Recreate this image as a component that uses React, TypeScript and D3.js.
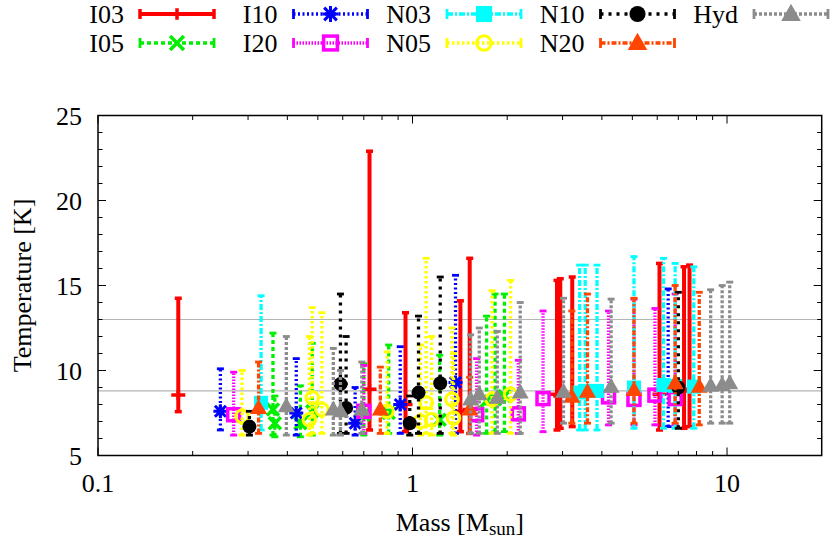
import * as d3 from 'd3';

// [mass, median T, min T, max T]
type Pt = [number, number, number, number];

const I03: Pt[] = [
  [0.18, 8.56, 7.58, 14.25],
  [0.73, 8.9, 6.5, 22.9],
  [0.95, 8.0, 6.4, 13.4],
  [1.42, 7.6, 6.4, 14.1],
  [1.52, 7.7, 6.3, 16.6],
  [2.88, 8.6, 6.5, 15.3],
  [2.95, 8.5, 6.6, 15.4],
  [3.22, 8.5, 6.7, 15.5],
  [6.1, 8.6, 6.5, 16.3],
  [7.3, 8.8, 6.6, 16.1],
  [7.6, 8.9, 6.7, 16.2],
];

const I05: Pt[] = [
  [0.36, 7.7, 6.2, 12.2],
  [0.365, 6.9, 6.1, 8.5],
  [0.44, 6.9, 6.1, 9.1],
  [0.48, 7.6, 6.2, 11.6],
  [0.7, 7.4, 6.2, 10.4],
  [0.84, 7.5, 6.3, 11.5],
  [1.22, 7.1, 6.2, 10.9],
  [1.72, 8.2, 6.3, 13.2],
  [1.83, 8.3, 6.4, 14.5],
  [1.96, 8.5, 6.4, 14.5],
];

const I10: Pt[] = [
  [0.245, 7.6, 6.5, 10.1],
  [0.427, 7.5, 6.2, 10.7],
  [0.657, 6.9, 6.2, 9.0],
  [0.914, 8.0, 6.3, 11.4],
  [1.37, 9.3, 6.3, 15.6],
  [6.5, 9.1, 6.7, 14.8],
];

const I20: Pt[] = [
  [0.27, 7.4, 6.2, 9.9],
  [0.7, 7.6, 6.3, 10.3],
  [1.6, 7.4, 6.2, 10.7],
  [2.17, 7.45, 6.3, 10.6],
  [2.6, 8.35, 6.4, 13.5],
  [4.2, 8.45, 6.8, 13.5],
  [5.06, 8.3, 6.8, 14.2],
  [5.9, 8.55, 6.8, 13.65],
  [6.84, 8.35, 6.8, 14.5],
];

const N03: Pt[] = [
  [0.33, 8.1, 6.5, 14.4],
  [3.4, 8.7, 6.5, 16.2],
  [3.54, 8.8, 6.5, 16.2],
  [3.86, 8.8, 6.5, 16.2],
  [5.06, 9.0, 6.6, 16.7],
  [6.28, 9.15, 6.6, 16.6],
  [6.84, 9.1, 6.6, 16.3],
  [7.84, 9.05, 6.6, 16.1],
];

const N05: Pt[] = [
  [0.287, 7.3, 6.2, 10.0],
  [0.47, 7.1, 6.2, 12.0],
  [0.48, 8.4, 6.3, 13.7],
  [0.515, 7.7, 6.3, 13.4],
  [0.83, 7.6, 6.3, 11.1],
  [1.06, 7.0, 6.2, 11.5],
  [1.105, 8.1, 6.3, 16.6],
  [1.15, 7.1, 6.2, 12.0],
  [1.335, 8.3, 6.3, 12.5],
  [1.35, 7.2, 6.2, 11.0],
  [1.79, 8.3, 6.3, 14.7],
  [2.05, 8.6, 6.3, 15.3],
];

const N10: Pt[] = [
  [0.303, 6.7, 6.2, 7.6],
  [0.59, 9.2, 6.3, 14.5],
  [0.615, 7.8, 6.3, 12.0],
  [0.98, 6.9, 6.2, 8.5],
  [1.045, 8.7, 6.3, 13.2],
  [1.225, 9.25, 6.3, 15.5],
  [7.0, 9.0, 6.6, 14.6],
];

const N20: Pt[] = [
  [0.324, 7.8, 6.3, 10.5],
  [0.79, 7.7, 6.3, 10.2],
  [1.52, 7.7, 6.3, 9.6],
  [3.21, 8.45, 6.9, 13.5],
  [3.6, 8.75, 6.9, 14.5],
  [5.06, 8.85, 6.9, 14.25],
  [6.84, 9.25, 6.9, 15.0],
  [8.16, 9.05, 6.8, 14.6],
];

const Hyd: Pt[] = [
  [0.397, 7.9, 6.2, 12.0],
  [0.56, 7.7, 6.2, 11.3],
  [0.59, 7.6, 6.2, 10.0],
  [0.69, 7.7, 6.3, 10.5],
  [1.53, 8.3, 6.3, 12.1],
  [1.63, 8.6, 6.3, 12.5],
  [1.86, 8.4, 6.3, 12.3],
  [2.2, 8.7, 6.3, 14.0],
  [3.02, 8.75, 6.9, 14.25],
  [4.28, 9.05, 6.9, 14.2],
  [8.87, 9.1, 6.9, 14.75],
  [9.65, 9.15, 6.9, 15.0],
  [10.2, 9.25, 6.9, 15.2],
];

const refLines = [13, 8.8];
const xMajorTicks = [0.1, 1, 10];
const yMajorTicks = [5, 10, 15, 20, 25];

type Marker = 'plus' | 'cross' | 'star' | 'osquare' | 'fsquare' | 'ocircle' | 'fcircle' | 'ftri';

interface Series {
  name: string;
  data: Pt[];
  color: string;
  dash?: string;
  width: number;
  marker: Marker;
}

// plot order = gnuplot order
const series: Series[] = [
  { name: 'I03', data: I03, color: '#ff0000', width: 4, marker: 'plus' },
  { name: 'I05', data: I05, color: '#00ee00', dash: '4,3', width: 3.3, marker: 'cross' },
  { name: 'I10', data: I10, color: '#0000ff', dash: '2,2.5', width: 3.3, marker: 'star' },
  { name: 'I20', data: I20, color: '#ff00ff', dash: '1.5,1.5', width: 3.3, marker: 'osquare' },
  { name: 'N03', data: N03, color: '#00ffff', dash: '6,2,2,2', width: 3.3, marker: 'fsquare' },
  { name: 'N05', data: N05, color: '#ffff00', dash: '2.5,2.5', width: 3.3, marker: 'ocircle' },
  { name: 'N10', data: N10, color: '#000000', dash: '3,5', width: 3.3, marker: 'fcircle' },
  { name: 'N20', data: N20, color: '#ff4500', dash: '5,2,2,2', width: 3.3, marker: 'ftri' },
  { name: 'Hyd', data: Hyd, color: '#8c8c8c', dash: '3,2', width: 3.3, marker: 'ftri' },
];

// legend columns (2 rows each)
const legendColumns = [['I03', 'I05'], ['I10', 'I20'], ['N03', 'N05'], ['N10', 'N20'], ['Hyd']];

const W = 830;
const H = 540;
const font = '"Liberation Serif", "Times New Roman", serif';

function MarkerShape({ type, x, y, color, k = 1 }: { type: Marker; x: number; y: number; color: string; k?: number }) {
  switch (type) {
    case 'plus':
      return <path d={`M${x - 7 * k},${y}H${x + 7 * k}M${x},${y - 5 * k}V${y + 5 * k}`} stroke={color} strokeWidth={3.5} fill="none" />;
    case 'cross':
      return (
        <path
          d={`M${x - 6 * k},${y - 6 * k}L${x + 6 * k},${y + 6 * k}M${x - 6 * k},${y + 6 * k}L${x + 6 * k},${y - 6 * k}`}
          stroke={color}
          strokeWidth={3.5}
          fill="none"
        />
      );
    case 'star': {
      const a = 7 * k;
      const b = 5.5 * k;
      return (
        <path
          d={`M${x - a},${y}H${x + a}M${x},${y - a}V${y + a}M${x - b},${y - b}L${x + b},${y + b}M${x - b},${y + b}L${x + b},${y - b}`}
          stroke={color}
          strokeWidth={3}
          fill="none"
        />
      );
    }
    case 'osquare':
      return <rect x={x - 6 * k} y={y - 6 * k} width={12 * k} height={12 * k} stroke={color} strokeWidth={3.5} fill="none" />;
    case 'fsquare':
      return <rect x={x - 7 * k} y={y - 7 * k} width={14 * k} height={14 * k} fill={color} />;
    case 'ocircle':
      return <circle cx={x} cy={y} r={6.3 * k} stroke={color} strokeWidth={3} fill="none" />;
    case 'fcircle':
      return <circle cx={x} cy={y} r={7 * k} fill={color} />;
    case 'ftri':
      return <path d={`M${x},${y - 9 * k}L${x + 8.5 * k},${y + 6 * k}L${x - 8.5 * k},${y + 6 * k}Z`} fill={color} />;
  }
}

export default function App() {
  const x = d3.scaleLog().domain([0.1, 20]).range([98, 821.7]);
  const y = d3.scaleLinear().domain([5, 25]).range([455.5, 115.5]);
  const [x0, x1] = x.range();
  const [y0, y1] = y.range();

  const xMinor = x.ticks().filter((t) => !xMajorTicks.some((m) => Math.abs(m - t) < 1e-9) && t < 20 - 1e-9);
  const yMinor = y.ticks(20).filter((t) => !yMajorTicks.includes(t));

  const cap = 3.5;
  const byName = new Map(series.map((s) => [s.name, s]));

  return (
    <svg width={W} height={H} style={{ position: 'absolute', left: 0, top: 0, background: '#fff' }} fontFamily={font}>
      {/* reference lines */}
      {refLines.map((v) => (
        <line key={v} x1={x0} x2={x1} y1={y(v)} y2={y(v)} stroke="#b4b4b4" strokeWidth={1.2} />
      ))}

      {/* data */}
      {series.map((s) => (
        <g key={s.name}>
          {s.data.map((d, i) => {
            const cx = x(d[0]);
            return (
              <g key={i}>
                <line x1={cx} x2={cx} y1={y(d[2])} y2={y(d[3])} stroke={s.color} strokeWidth={s.width} strokeDasharray={s.dash} />
                <line x1={cx - cap} x2={cx + cap} y1={y(d[2])} y2={y(d[2])} stroke={s.color} strokeWidth={s.width - 0.5} />
                <line x1={cx - cap} x2={cx + cap} y1={y(d[3])} y2={y(d[3])} stroke={s.color} strokeWidth={s.width - 0.5} />
                <MarkerShape type={s.marker} x={cx} y={y(d[1])} color={s.color} />
              </g>
            );
          })}
        </g>
      ))}

      {/* ticks (mirrored) */}
      <g stroke="#000" strokeWidth={1}>
        {xMajorTicks.map((t) => (
          <g key={t}>
            <line x1={x(t)} x2={x(t)} y1={y0} y2={y0 - 8} />
            <line x1={x(t)} x2={x(t)} y1={y1} y2={y1 + 8} />
          </g>
        ))}
        {xMinor.map((t) => (
          <g key={t}>
            <line x1={x(t)} x2={x(t)} y1={y0} y2={y0 - 4.5} />
            <line x1={x(t)} x2={x(t)} y1={y1} y2={y1 + 4.5} />
          </g>
        ))}
        {yMajorTicks.map((t) => (
          <g key={t}>
            <line x1={x0} x2={x0 + 8} y1={y(t)} y2={y(t)} />
            <line x1={x1} x2={x1 - 8} y1={y(t)} y2={y(t)} />
          </g>
        ))}
        {yMinor.map((t) => (
          <g key={t}>
            <line x1={x0} x2={x0 + 4.5} y1={y(t)} y2={y(t)} />
            <line x1={x1} x2={x1 - 4.5} y1={y(t)} y2={y(t)} />
          </g>
        ))}
      </g>

      {/* border */}
      <rect x={x0} y={y1} width={x1 - x0} height={y0 - y1} fill="none" stroke="#000" strokeWidth={1.5} />

      {/* tick labels */}
      {xMajorTicks.map((t) => (
        <text key={t} x={x(t)} y={492} textAnchor="middle" fontSize={26}>
          {String(t)}
        </text>
      ))}
      {yMajorTicks.map((t) => (
        <text key={t} x={82} y={y(t) + 9} textAnchor="end" fontSize={26}>
          {t}
        </text>
      ))}

      {/* axis labels */}
      <text x={(x0 + x1) / 2} y={531} textAnchor="middle" fontSize={26}>
        Mass [M<tspan fontSize={19} dy={4}>sun</tspan>
        <tspan dy={-4}>]</tspan>
      </text>
      <text transform={`translate(31,${(y0 + y1) / 2}) rotate(-90)`} textAnchor="middle" fontSize={26}>
        Temperature [K]
      </text>

      {/* legend */}
      {legendColumns.map((col, ci) =>
        col.map((name, ri) => {
          const s = byName.get(name)!;
          const ly = 14 + ri * 29;
          const tx = 124 + ci * 153.5;
          const lx0 = 140 + ci * 153.5;
          const lx1 = lx0 + 74;
          const mx = (lx0 + lx1) / 2;
          return (
            <g key={name}>
              <text x={tx} y={ly + 9} textAnchor="end" fontSize={26}>
                {name}
              </text>
              <line x1={lx0} x2={lx1} y1={ly} y2={ly} stroke={s.color} strokeWidth={s.width} strokeDasharray={s.dash} />
              <line x1={lx0} x2={lx0} y1={ly - 5} y2={ly + 5} stroke={s.color} strokeWidth={s.width - 0.5} />
              <line x1={lx1} x2={lx1} y1={ly - 5} y2={ly + 5} stroke={s.color} strokeWidth={s.width - 0.5} />
              <MarkerShape type={s.marker} x={mx} y={ly} color={s.color} k={1.15} />
            </g>
          );
        })
      )}
    </svg>
  );
}
